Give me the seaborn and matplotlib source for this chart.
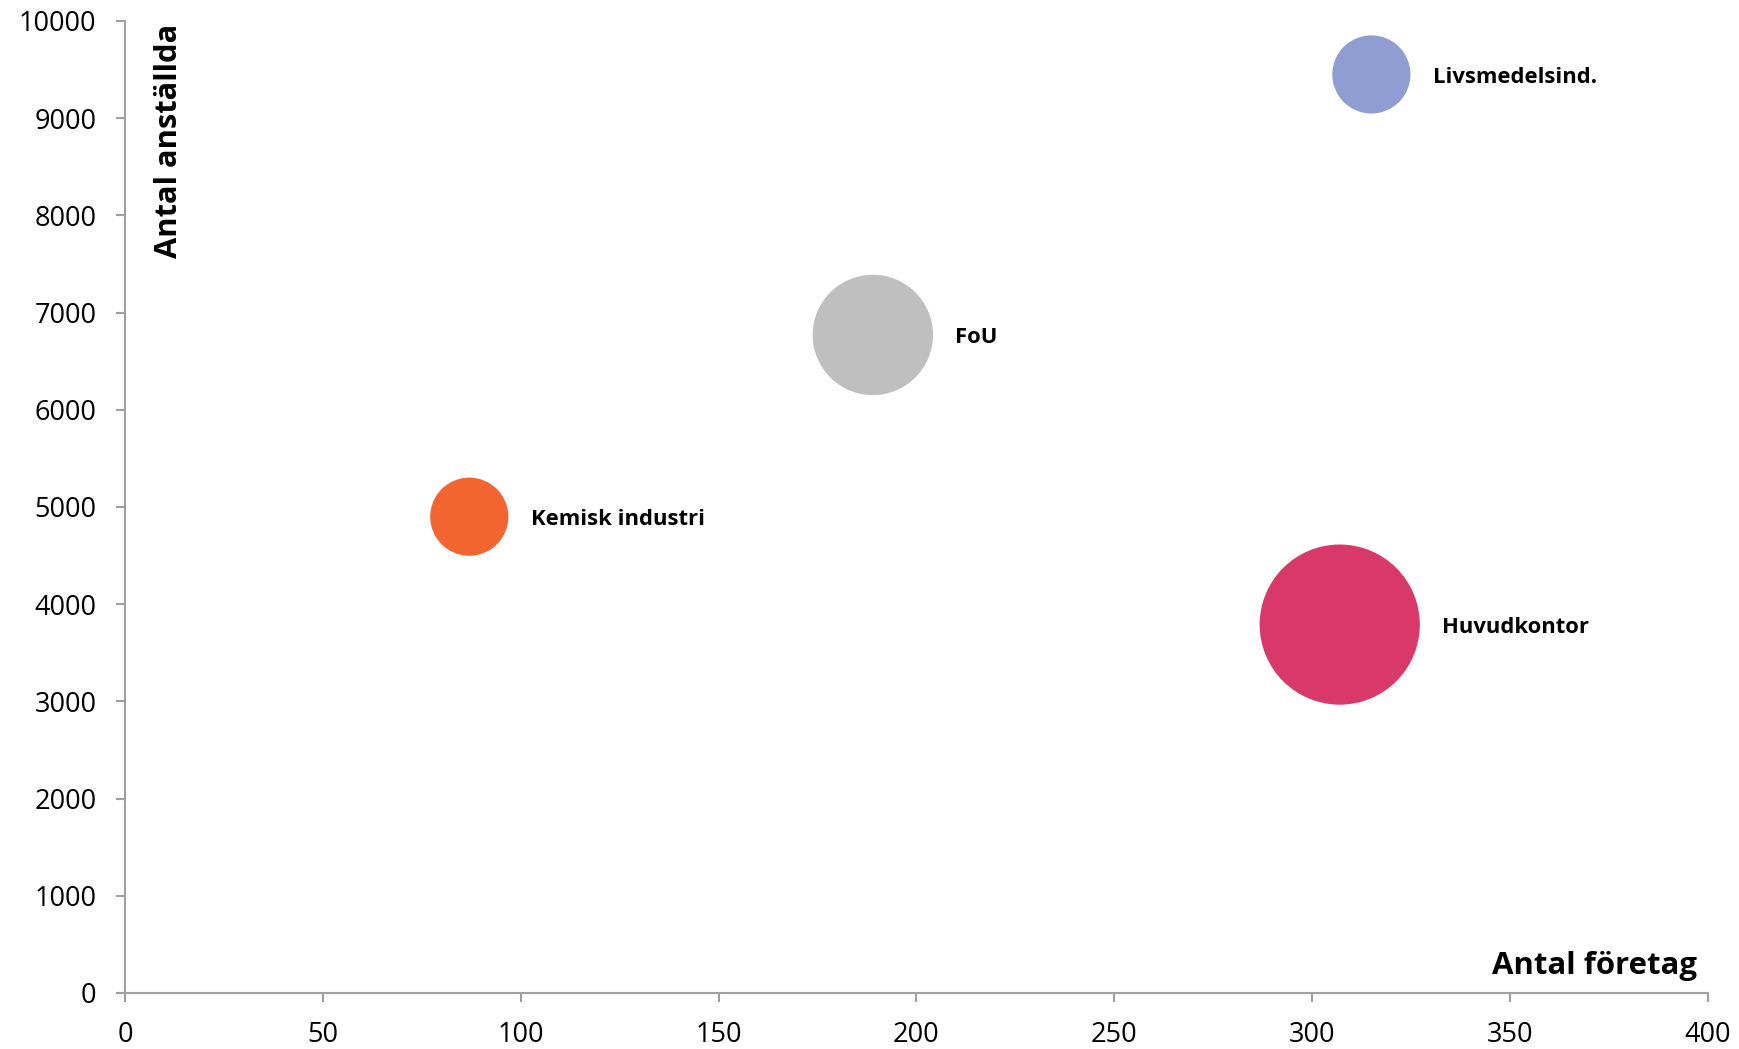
import numpy as np
import pandas as pd
import matplotlib
matplotlib.use("Agg")
import matplotlib.pyplot as plt
import seaborn as sns

# Data
branscher = ["Livsmedelsind.", "FoU", "Kemisk industri", "Huvudkontor"]
antal_foretag = [315, 189, 87, 307]
antal_anstallda = [9450, 6770, 4900, 3790]
bubbla = [1000, 2370, 1000, 4200]   # relativ bubbelstorlek (yta)
farger = ["#8F9DD3", "#BFBFBF", "#F26430", "#D9396A"]

df = pd.DataFrame({
    "bransch": branscher,
    "foretag": antal_foretag,
    "anstallda": antal_anstallda,
    "bubbla": bubbla,
})

sns.set_style("white")
plt.rcParams["font.family"] = ["Open Sans", "DejaVu Sans"]
plt.rcParams["text.color"] = "black"

fig = plt.figure(figsize=(17.39, 10.49), dpi=100)
ax = fig.add_axes([0.0719, 0.0534, 0.9101, 0.9266])

max_s = 13300
sns.scatterplot(
    data=df, x="foretag", y="anstallda", hue="bransch", size="bubbla",
    palette=dict(zip(branscher, farger)), sizes=(0, max_s),
    size_norm=(0, max(bubbla)), linewidth=0, alpha=1, legend=False, ax=ax,
)

# Etiketter till höger om bubblorna
for _, r in df.iterrows():
    s = max_s * r["bubbla"] / max(bubbla)
    rad = np.sqrt(s) / 2
    ax.annotate(r["bransch"], (r["foretag"], r["anstallda"]),
                xytext=(rad + 16, -2), textcoords="offset points",
                ha="left", va="center", fontsize=15.8, fontweight="bold",
                color="black")

ax.set_xlim(0, 400)
ax.set_ylim(0, 10000)
ax.set_xticks(range(0, 401, 50))
ax.set_yticks(range(0, 10001, 1000))
ax.set_xlabel("")
ax.set_ylabel("")

for side in ["top", "right"]:
    ax.spines[side].set_visible(False)
for side in ["left", "bottom"]:
    ax.spines[side].set_color("#A0A0A0")
    ax.spines[side].set_linewidth(1.5)

ax.tick_params(axis="both", which="major", direction="out", length=6.5,
               width=1.5, color="#A0A0A0", labelsize=19.5, labelcolor="black",
               pad=14, left=True, bottom=True)

ax.text(0.993, 0.028, "Antal företag", transform=ax.transAxes,
        ha="right", va="center", fontsize=22.4, fontweight="bold", color="black")
ax.text(0.028, 0.997, "Antal anställda", transform=ax.transAxes,
        ha="center", va="top", rotation=90, fontsize=22.2, fontweight="bold",
        color="black")

fig.savefig("out.png", dpi=100)
